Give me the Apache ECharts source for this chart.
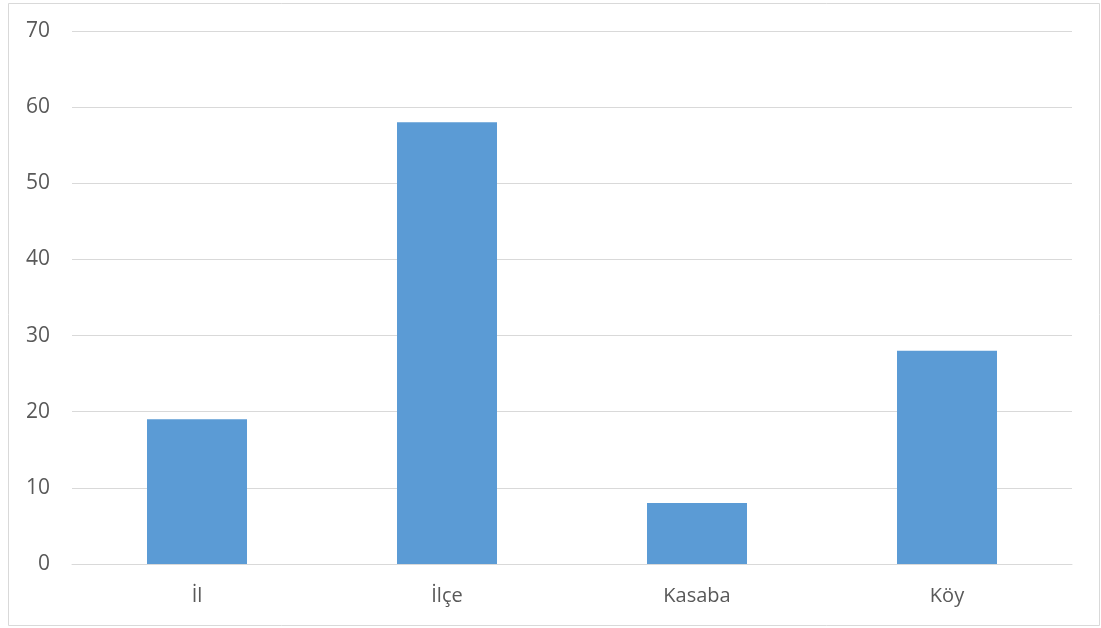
<!DOCTYPE html>
<html>
<head>
<meta charset="utf-8">
<script src="https://cdn.jsdelivr.net/npm/echarts@6/dist/echarts.min.js"></script>
<style>html,body{margin:0;padding:0;background:#fff}#c{width:1101px;height:628px}</style>
</head>
<body>
<div id="c"></div>
<script>
const categories = ['İl', 'İlçe', 'Kasaba', 'Köy'];
const values = [19, 58, 8, 28];
const yTicks = { min: 0, max: 70, interval: 10 };

const chart = echarts.init(document.getElementById('c'), null, { renderer: 'canvas' });
chart.setOption({
  animation: false,
  backgroundColor: '#ffffff',
  graphic: [{
    type: 'rect', silent: true, z: -1,
    shape: { x: 8.5, y: 3.5, width: 1091, height: 622 },
    style: { fill: 'none', stroke: '#d9d9d9', lineWidth: 1 }
  }],
  grid: { left: 72, right: 29, top: 31, bottom: 64, containLabel: false },
  xAxis: {
    type: 'category',
    data: categories,
    axisLine: { show: true, lineStyle: { color: '#d9d9d9', width: 1 } },
    axisTick: { show: false },
    axisLabel: { color: '#595959', fontSize: 20, fontFamily: 'Open Sans, Liberation Sans, sans-serif', margin: 22 }
  },
  yAxis: {
    type: 'value',
    min: yTicks.min, max: yTicks.max, interval: yTicks.interval,
    axisLine: { show: false },
    axisTick: { show: false },
    splitLine: { lineStyle: { color: '#d9d9d9', width: 1 } },
    axisLabel: { color: '#595959', fontSize: 21, fontFamily: 'Open Sans, Liberation Sans, sans-serif', margin: 22 }
  },
  series: [{
    type: 'bar',
    data: values,
    barWidth: '40%',
    itemStyle: { color: '#5b9bd5' }
  }]
});
</script>
</body>
</html>
